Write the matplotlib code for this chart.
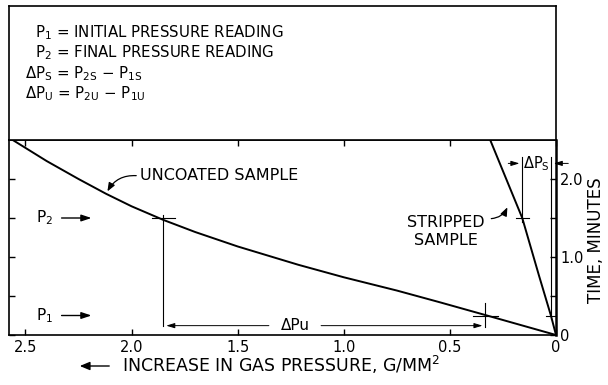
import matplotlib
matplotlib.use("Agg")
import matplotlib.pyplot as plt

plt.rcParams["font.family"] = ["DejaVu Sans"]
plt.rcParams["mathtext.default"] = "regular"

# curvas: pressao (g/mm2) x tempo (min)
uncoated_p = [0, 0.333, 0.548, 0.75, 1.0, 1.214, 1.5, 1.7, 1.85, 2.0, 2.12, 2.25, 2.4, 2.56]
uncoated_t = [0, 0.256, 0.42, 0.57, 0.74, 0.90, 1.135, 1.32, 1.475, 1.65, 1.81, 2.0, 2.23, 2.5]
stripped_p = [0, 0.024, 0.08, 0.159, 0.23, 0.31]
stripped_t = [0, 0.25, 0.76, 1.5, 1.97, 2.5]

# leituras P1 / P2
t_p1, t_p2 = 0.25, 1.5
pu1, pu2 = 0.333, 1.85
ps1, ps2 = 0.024, 0.159

xticks = [2.5, 2.0, 1.5, 1.0, 0.5, 0]
xtick_labels = ["2.5", "2.0", "1.5", "1.0", "0.5", "0"]
yticks = [0, 0.5, 1.0, 1.5, 2.0]
ytick_labels = ["0", "", "1.0", "", "2.0"]

header = [
    (35, 37, "P$_1$ = INITIAL PRESSURE READING"),
    (35, 57, "P$_2$ = FINAL PRESSURE READING"),
    (25, 78, "ΔP$_S$ = P$_{2S}$ − P$_{1S}$"),
    (25, 98, "ΔP$_U$ = P$_{2U}$ − P$_{1U}$"),
]

W, H = 608, 385
fig = plt.figure(figsize=(W / 100, H / 100), dpi=100)
L, R, T, B = 8.5, 556, 140, 335
ax = fig.add_axes([L / W, (H - B) / H, (R - L) / W, (B - T) / H])
box = fig.add_axes([L / W, (H - T) / H, (R - L) / W, (T - 6) / H])
box.set_xticks([]); box.set_yticks([])
for s in box.spines.values():
    s.set_linewidth(1.2)

def px(x, y):
    return (x / W, 1 - y / H)

for x, y, s in header:
    fig.text(*px(x, y), s, fontsize=10.8, ha="left", va="baseline")

k = "k"
ax.plot(uncoated_p, uncoated_t, color=k, lw=1.4)
ax.plot(stripped_p, stripped_t, color=k, lw=1.4)

ax.set_xlim(2.58, 0)
ax.set_ylim(0, 2.5)
ax.set_xticks(xticks)
ax.set_xticklabels(xtick_labels, fontsize=10.5)
ax.set_yticks(yticks)
ax.set_yticklabels(ytick_labels, fontsize=10.5)
ax.tick_params(direction="in", length=4, width=1, top=True, bottom=True,
               left=True, right=True, labelleft=False, labelright=True)
ax.tick_params(axis="y", pad=3)
for s in ax.spines.values():
    s.set_linewidth(1.2)
ax.spines["right"].set_linewidth(1.8)

thin = dict(color=k, lw=0.8)
# marcas em cruz
for p, t, w in [(pu2, t_p2, 0.055), (pu1, t_p1, 0.06), (ps2, t_p2, 0.03), (ps1, t_p1, 0.025)]:
    ax.plot([p - w, p + w], [t, t], **thin)

# delta P uncoated
ax.plot([pu2, pu2], [0.11, 1.54], **thin)
ax.plot([pu1, pu1], [0.10, 0.41], **thin)
arr = dict(arrowstyle="-|>,head_length=0.5,head_width=0.15", color=k, lw=0.7)
ax.annotate("", xy=(pu2, 0.12), xytext=(1.34, 0.12), arrowprops=arr)
ax.annotate("", xy=(pu1, 0.12), xytext=(1.12, 0.12), arrowprops=arr)
ax.text(1.23, 0.12, "ΔPu", fontsize=11, ha="center", va="center")

# delta P stripped
ax.plot([ps2, ps2], [1.45, 2.28], **thin)
ax.plot([ps1, ps1], [0.2, 2.28], **thin)
ax.annotate("", xy=(ps2, 2.2), xytext=(0.238, 2.2), arrowprops=arr, annotation_clip=False)
ax.annotate("", xy=(ps1, 2.2), xytext=(-0.071, 2.2), arrowprops=arr, annotation_clip=False)
ax.text(0.092, 2.2, "ΔP$_S$", fontsize=10.5, ha="center", va="center")

# P1 / P2 setas
big = dict(arrowstyle="-|>,head_length=0.6,head_width=0.2", color=k, lw=1)
for t, lab in [(t_p2, "P$_2$"), (t_p1, "P$_1$")]:
    ax.text(2.41, t, lab, fontsize=11, ha="center", va="center")
    ax.annotate("", xy=(2.176, t), xytext=(2.343, t), arrowprops=big)

# rotulos das curvas
lead = dict(arrowstyle="-|>,head_length=0.5,head_width=0.2", color=k, lw=0.9,
            connectionstyle="arc3,rad=0.35")
ax.text(1.962, 2.04, "UNCOATED SAMPLE", fontsize=11.5, ha="left", va="center")
ax.annotate("", xy=(2.12, 1.81), xytext=(1.965, 2.04), arrowprops=lead)
ax.text(0.519, 1.33, "STRIPPED\nSAMPLE", fontsize=11.5, ha="center", va="center",
        linespacing=1.25)
ax.annotate("", xy=(0.224, 1.67), xytext=(0.318, 1.49), arrowprops=lead)

# eixos
fig.text(*px(122, 365), "INCREASE IN GAS PRESSURE, G/MM$^2$", fontsize=12.5,
         ha="left", va="center")
fig.add_artist(matplotlib.patches.FancyArrowPatch(
    px(112, 366), px(77, 366), transform=fig.transFigure,
    arrowstyle="-|>,head_length=6,head_width=2.5", color=k, lw=1))
fig.text(*px(596, 240), "TIME, MINUTES", fontsize=12, rotation=90,
         ha="center", va="center")

fig.savefig("out.png", dpi=100)
